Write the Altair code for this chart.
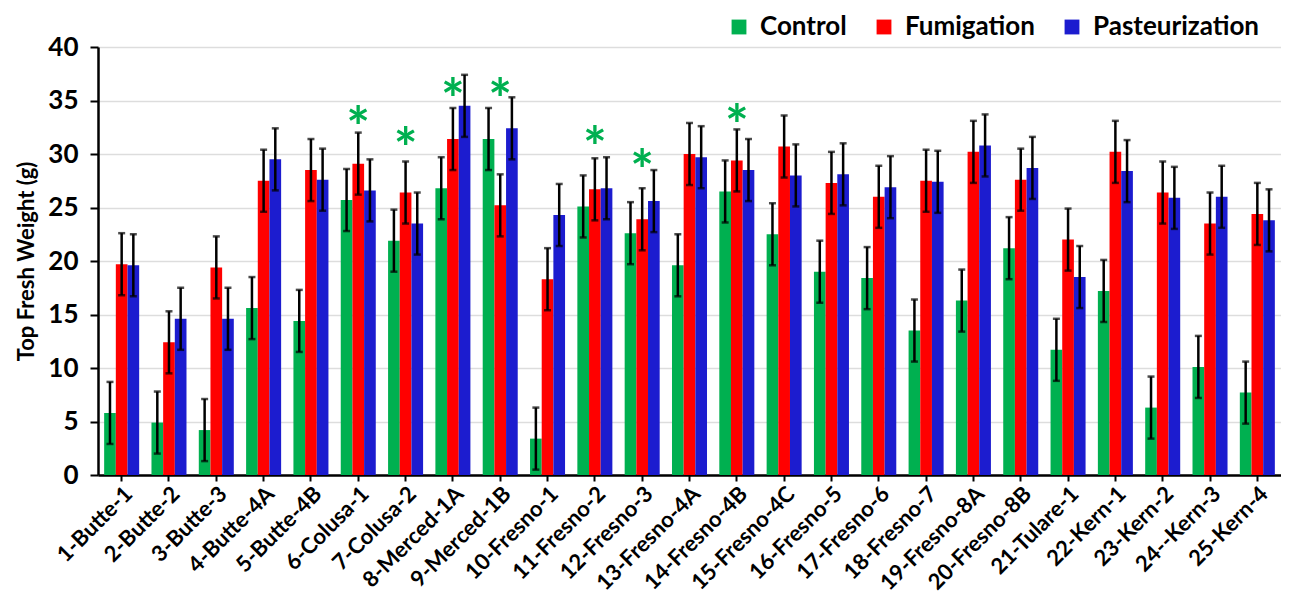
import altair as alt
import pandas as pd

sites = ["1-Butte-1", "2-Butte-2", "3-Butte-3", "4-Butte-4A", "5-Butte-4B", "6-Colusa-1",
         "7-Colusa-2", "8-Merced-1A", "9-Merced-1B", "10-Fresno-1", "11-Fresno-2", "12-Fresno-3",
         "13-Fresno-4A", "14-Fresno-4B", "15-Fresno-4C", "16-Fresno-5", "17-Fresno-6", "18-Fresno-7",
         "19-Fresno-8A", "20-Fresno-8B", "21-Tulare-1", "22-Kern-1", "23-Kern-2", "24--Kern-3", "25-Kern-4"]
treatments = ["Control", "Fumigation", "Pasteurization"]
colors = ["#00B050", "#FF0000", "#1C1CCF"]

control = [5.8, 4.9, 4.2, 15.6, 14.4, 25.7, 21.9, 26.8, 31.4, 3.4, 25.1, 22.6, 19.6, 26.5, 22.5,
           19.0, 18.4, 13.5, 16.3, 21.2, 11.7, 17.2, 6.3, 10.1, 7.7]
fumigation = [19.7, 12.4, 19.4, 27.5, 28.5, 29.1, 26.4, 31.4, 25.2, 18.3, 26.7, 23.9, 30.0, 29.4, 30.7,
              27.3, 26.0, 27.5, 30.2, 27.6, 22.0, 30.2, 26.4, 23.5, 24.4]
pasteurization = [19.6, 14.6, 14.6, 29.5, 27.6, 26.6, 23.5, 34.5, 32.4, 24.3, 26.8, 25.6, 29.7, 28.5, 28.0,
                  28.1, 26.9, 27.4, 30.8, 28.7, 18.5, 28.4, 25.9, 26.0, 23.8]
err_control = [2.9] * 25
err_fumigation = [2.9] * 25
err_pasteurization = [2.9] * 25

star_sites = ["6-Colusa-1", "7-Colusa-2", "8-Merced-1A", "9-Merced-1B", "11-Fresno-2", "12-Fresno-3", "14-Fresno-4B"]
star_y = [33.5, 31.5, 36.1, 36.1, 31.6, 29.4, 33.6]

rows = []
for vals, errs, t in [(control, err_control, "Control"), (fumigation, err_fumigation, "Fumigation"),
                      (pasteurization, err_pasteurization, "Pasteurization")]:
    for s, v, e in zip(sites, vals, errs):
        rows.append({"site": s, "treatment": t, "value": v, "lo": v - e, "hi": v + e})
df = pd.DataFrame(rows)
stars = pd.DataFrame({"site": star_sites, "y": star_y, "label": ["*"] * len(star_sites)})

FONT = "Lato"

xenc = alt.X("site:N", sort=sites, title=None,
             scale=alt.Scale(paddingInner=0.26, paddingOuter=0.13),
             axis=alt.Axis(labelAngle=-45, labelFontSize=22, labelFontWeight="bold", labelColor="#000",
                           labelFont=FONT, tickColor="#000", tickWidth=2, tickSize=6,
                           domainColor="#000", domainWidth=2.5, labelPadding=2, grid=False))
yscale = alt.Scale(domain=[0, 40])
xoff = alt.XOffset("treatment:N", sort=treatments)

base = alt.Chart(df)
bars = base.mark_bar().encode(
    x=xenc,
    xOffset=xoff,
    y=alt.Y("value:Q", scale=yscale, title="Top Fresh Weight (g)",
            axis=alt.Axis(values=[0, 5, 10, 15, 20, 25, 30, 35, 40], labelFontSize=26, labelFontWeight="bold",
                          labelColor="#000", labelFont=FONT, titleFont=FONT, titleFontSize=22,
                          titleFontWeight="bold", titleColor="#000", titlePadding=9,
                          tickColor="#000", tickWidth=2, tickSize=8, labelPadding=12,
                          domainColor="#000", domainWidth=2.5, gridColor="#DDDDDD", gridWidth=1.5)),
    color=alt.Color("treatment:N", sort=treatments,
                    scale=alt.Scale(domain=treatments, range=colors),
                    legend=alt.Legend(title=None, orient="none", legendX=628, legendY=-33, direction="horizontal",
                                      symbolType="square", symbolSize=220, symbolStrokeWidth=0,
                                      labelFontSize=26, labelFontWeight="bold", labelFont=FONT,
                                      labelColor="#000", columnPadding=24, labelOffset=8, labelLimit=0)),
)
rules = base.mark_rule(color="#000", strokeWidth=2.5).encode(
    x=alt.X("site:N", sort=sites), xOffset=xoff, y=alt.Y("lo:Q", scale=yscale), y2="hi:Q")
cap_lo = base.mark_tick(color="#000", thickness=2.5, size=7).encode(
    x=alt.X("site:N", sort=sites), xOffset=xoff, y=alt.Y("lo:Q", scale=yscale))
cap_hi = base.mark_tick(color="#000", thickness=2.5, size=7).encode(
    x=alt.X("site:N", sort=sites), xOffset=xoff, y=alt.Y("hi:Q", scale=yscale))
star_marks = alt.Chart(stars).mark_text(color="#00B050", fontSize=56, fontWeight="bold", font=FONT,
                                        baseline="alphabetic", dy=30).encode(
    x=alt.X("site:N", sort=sites), y=alt.Y("y:Q", scale=yscale), text="label:N")

chart = alt.layer(bars, rules, cap_lo, cap_hi, star_marks).properties(
    width=1183, height=428, autosize="none",
    padding={"left": 90, "top": 39, "right": 0, "bottom": 128},
).configure_view(stroke=None).configure_axisX(grid=False)

chart.save("out.html", embed_options={"renderer": "svg", "actions": False})
